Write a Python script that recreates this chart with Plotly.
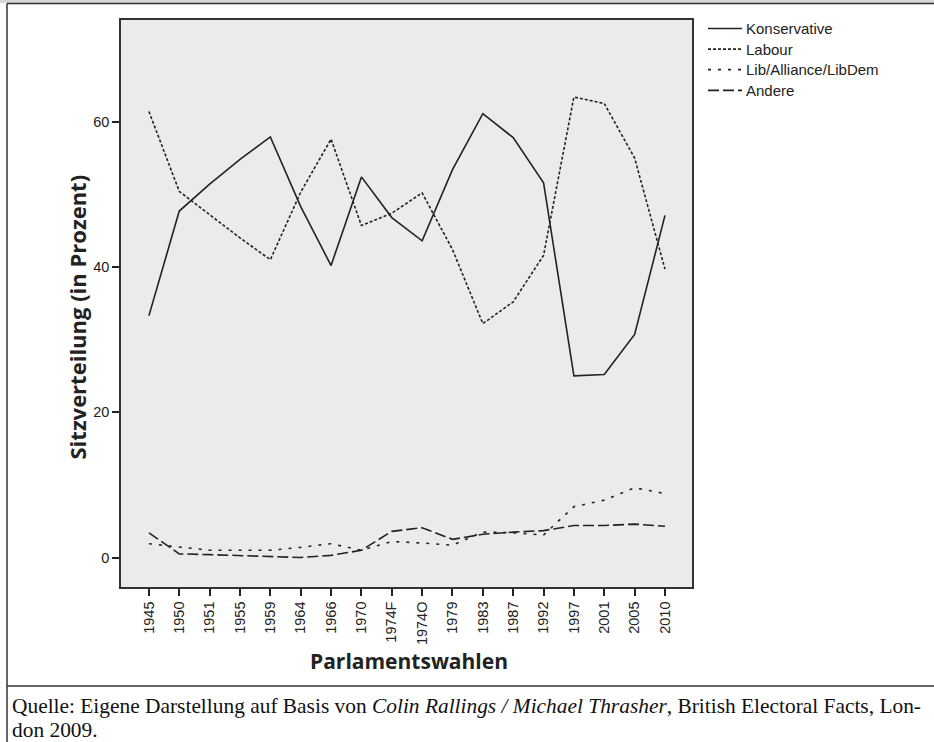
import plotly.graph_objects as go

# ---- data ----
wahlen = ["1945", "1950", "1951", "1955", "1959", "1964", "1966", "1970", "1974F",
          "1974O", "1979", "1983", "1987", "1992", "1997", "2001", "2005", "2010"]
konservative = [33.3, 47.7, 51.4, 54.8, 57.9, 48.3, 40.2, 52.4, 46.8, 43.6, 53.4,
                61.1, 57.8, 51.6, 25.0, 25.2, 30.7, 47.1]
labour = [61.4, 50.4, 47.2, 44.0, 41.0, 50.3, 57.6, 45.7, 47.4, 50.2, 42.4, 32.2,
          35.2, 41.6, 63.4, 62.5, 55.0, 39.7]
libdem = [1.9, 1.4, 1.0, 1.0, 1.0, 1.4, 1.9, 1.0, 2.2, 2.0, 1.7, 3.5, 3.4, 3.1,
          7.0, 7.9, 9.6, 8.8]
andere = [3.4, 0.5, 0.4, 0.3, 0.2, 0.0, 0.3, 1.0, 3.6, 4.1, 2.5, 3.2, 3.5, 3.7,
          4.4, 4.4, 4.6, 4.3]
serien = ["Konservative", "Labour", "Lib/Alliance/LibDem", "Andere"]
y_ticks = [0, 20, 40, 60]

W, H = 934, 742
L, R, T, B = 121, 692, 20, 587
INK = "#222222"
dashes = ["solid", "3px,2px", "3px,7px", "11px,4px"]


def px(x):
    return (x - L) / (R - L)


def py(y):
    return (B - y) / (B - T)


fig = go.Figure()
for name, vals, dash in zip(serien, [konservative, labour, libdem, andere], dashes):
    fig.add_trace(go.Scatter(x=list(range(len(wahlen))), y=vals, mode="lines", name=name,
                             line=dict(color=INK, width=1.6, dash=dash),
                             showlegend=False, hoverinfo="skip"))

shapes = []
# frame: top band, top line, left line, divider
shapes.append(dict(type="rect", xref="paper", yref="paper", x0=px(0), x1=px(W), y0=py(0), y1=py(3),
                   fillcolor="#d6d6d6", line=dict(width=0), layer="below"))
shapes.append(dict(type="line", xref="paper", yref="paper", x0=px(7), x1=px(W), y0=py(3.5), y1=py(3.5),
                   line=dict(color="#333333", width=1.5)))
shapes.append(dict(type="line", xref="paper", yref="paper", x0=px(7), x1=px(7), y0=py(3.5), y1=py(H),
                   line=dict(color="#333333", width=1.5)))
shapes.append(dict(type="line", xref="paper", yref="paper", x0=px(7), x1=px(W), y0=py(686), y1=py(686),
                   line=dict(color="#333333", width=1.5)))

annotations = []
# legend (manual)
for i, (name, dash) in enumerate(zip(serien, dashes)):
    yy = 28.5 + i * 20.6
    shapes.append(dict(type="line", xref="paper", yref="paper", x0=px(708), x1=px(742),
                       y0=py(yy), y1=py(yy), line=dict(color=INK, width=1.7, dash=dash)))
    annotations.append(dict(xref="paper", yref="paper", x=px(744), y=py(yy), text=name,
                            showarrow=False, xanchor="left", yanchor="middle",
                            font=dict(family="Liberation Sans", size=15, color=INK)))

# axis titles
annotations.append(dict(xref="paper", yref="paper", x=px(408.5), y=py(660.5),
                        text="<b>Parlamentswahlen</b>",
                        showarrow=False, xanchor="center", yanchor="middle",
                        font=dict(family="Open Sans", size=21, color=INK)))
annotations.append(dict(xref="paper", yref="paper", x=px(76.5), y=py(317),
                        text="<b>Sitzverteilung (in Prozent)</b>", textangle=-90,
                        showarrow=False, xanchor="center", yanchor="middle",
                        font=dict(family="Open Sans", size=22, color=INK)))
# caption
cap_font = dict(family="Liberation Serif", size=21.4, color="#111111")
annotations.append(dict(xref="paper", yref="paper", x=px(10), y=py(706),
                        text="Quelle: Eigene Darstellung auf Basis von <i>Colin Rallings / Michael Thrasher</i>, British Electoral Facts, Lon-",
                        showarrow=False, xanchor="left", yanchor="middle", font=cap_font))
annotations.append(dict(xref="paper", yref="paper", x=px(10), y=py(730), text="don 2009.",
                        showarrow=False, xanchor="left", yanchor="middle", font=cap_font))

tick_font = dict(family="Liberation Sans", size=14.5, color=INK)
fig.update_layout(
    width=W, height=H,
    margin=dict(l=L, r=W - R, t=T, b=H - B, pad=0),
    paper_bgcolor="white", plot_bgcolor="#ebebeb",
    shapes=shapes, annotations=annotations,
    showlegend=False,
    xaxis=dict(range=[-0.92, 17.89], tickmode="array", tickvals=list(range(len(wahlen))),
               ticktext=wahlen, tickangle=-90, ticks="outside", ticklen=7, tickwidth=1.5,
               tickcolor=INK, showline=True, linecolor="#333333", linewidth=1.5, mirror=True,
               showgrid=False, zeroline=False, tickfont=tick_font),
    yaxis=dict(range=[-4.06, 74.0], tickmode="array", tickvals=y_ticks,
               ticks="outside", ticklen=7, tickwidth=1.5, tickcolor=INK,
               showline=True, linecolor="#333333", linewidth=1.5, mirror=True,
               showgrid=False, zeroline=False, tickfont=tick_font),
)

fig.write_html("out.html", config={"displayModeBar": False},
               post_script="document.body.style.margin='0px';")
